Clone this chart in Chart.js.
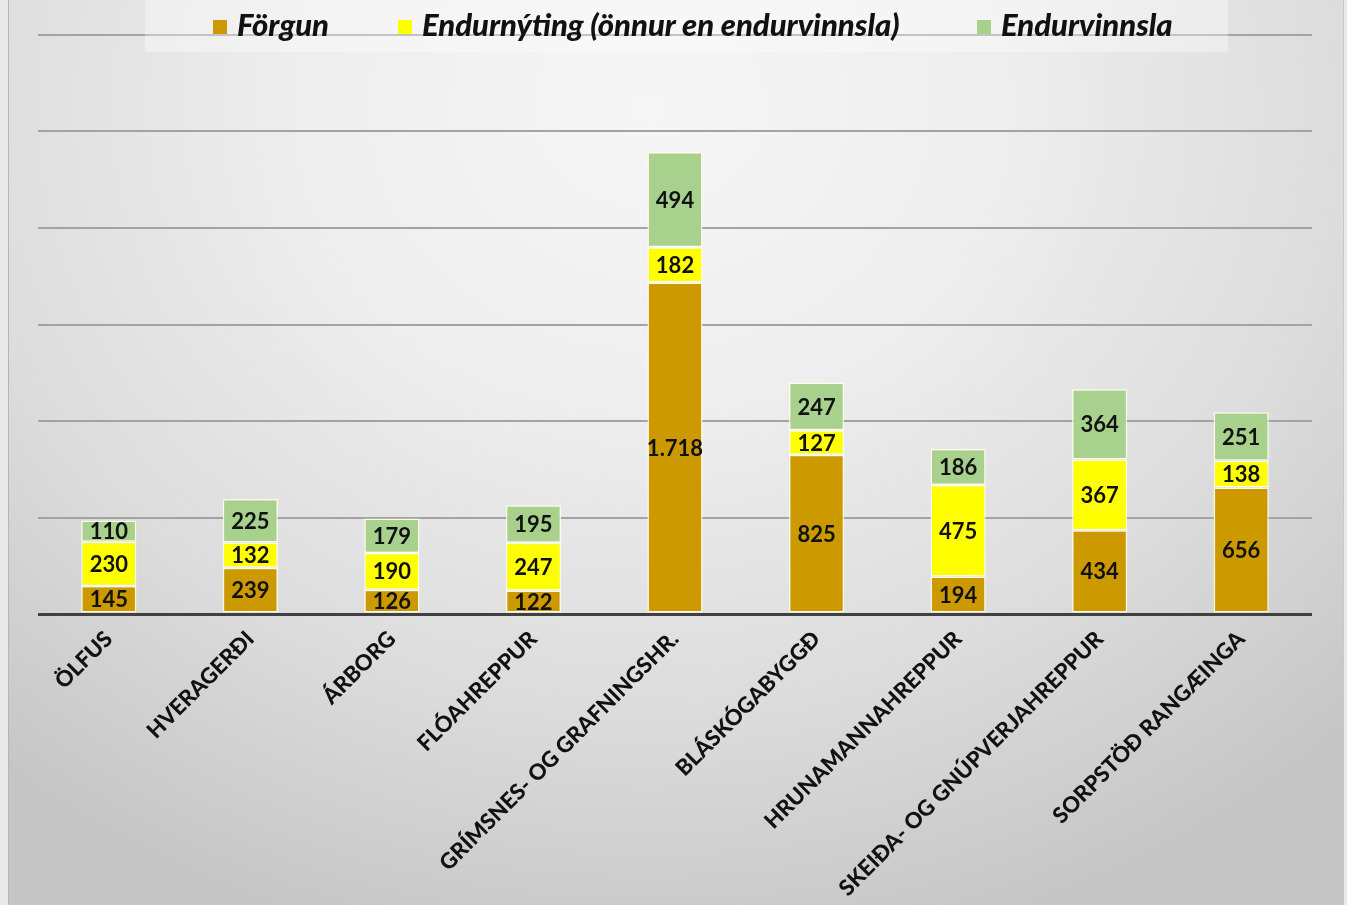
<!DOCTYPE html>
<html>
<head>
<meta charset="utf-8">
<script src="https://cdn.jsdelivr.net/npm/chart.js@4.4.1/dist/chart.umd.min.js"></script>
<style>
  html, body { margin: 0; padding: 0; width: 1347px; height: 905px; overflow: hidden; background: #e9e9e9; }
  #frame {
    position: absolute; left: 8px; top: 0; width: 1334px; height: 905px;
    border-left: 1px solid #b5b5b5; border-right: 1px solid #c8c8c8;
    background: radial-gradient(ellipse 75% 95% at 48% 12%, #f6f6f6 0%, #eeeeee 35%, #dcdcdc 70%, #c6c6c6 100%);
  }
  #chartWrap { position: absolute; left: 0; top: 0; width: 1347px; height: 905px; }
  #legend {
    position: absolute; left: 145px; top: 0; width: 1083px; height: 52px;
    background: rgba(255,255,255,0.35);
    font-family: Lato, "Open Sans", sans-serif; font-weight: 900; font-style: italic;
    font-size: 31px; color: #111;
  }
  .item { position: absolute; top: 5px; white-space: nowrap; line-height: 38px; }
  .sw { display: inline-block; width: 14px; height: 14px; margin-right: 10px; vertical-align: 2px; }
</style>
</head>
<body>
<div id="frame"></div>
<div id="chartWrap"><canvas id="c" width="1347" height="905"></canvas></div>
<div id="legend"></div>
<script>
const categories = ["ÖLFUS","HVERAGERÐI","ÁRBORG","FLÓAHREPPUR","GRÍMSNES- OG GRAFNINGSHR.","BLÁSKÓGABYGGÐ","HRUNAMANNAHREPPUR","SKEIÐA- OG GNÚPVERJAHREPPUR","SORPSTÖÐ RANGÆINGA"];
const forgun = [145,239,126,122,1718,825,194,434,656];
const endurnyting = [230,132,190,247,182,127,475,367,138];
const endurvinnsla = [110,225,179,195,494,247,186,364,251];
const seriesNames = ["Förgun","Endurnýting (önnur en endurvinnsla)","Endurvinnsla"];
const seriesColors = ["#CC9900","#FFFF00","#A9D18E"];
const yMax = 3000;
const yStep = 500;

function fmt(v){ return String(v).replace(/\B(?=(\d{3})+(?!\d))/g, "."); }

const dataLabels = {
  id: 'dataLabels',
  afterDatasetsDraw(chart){
    const ctx = chart.ctx;
    ctx.save();
    ctx.font = "bold 22px Lato, 'Open Sans', sans-serif";
    ctx.fillStyle = "#111";
    ctx.textAlign = "center";
    ctx.textBaseline = "middle";
    chart.data.datasets.forEach((ds, di) => {
      chart.getDatasetMeta(di).data.forEach((bar, i) => {
        const p = bar.getProps(['x','y','base'], true);
        ctx.fillText(fmt(ds.data[i]), p.x, (p.y + p.base)/2 + 1);
      });
    });
    ctx.restore();
  }
};

const datasets = [forgun, endurnyting, endurvinnsla].map((d, i) => ({
  label: seriesNames[i], data: d, backgroundColor: seriesColors[i],
  borderColor: "rgba(255,255,230,0.85)", borderWidth: 1.5, borderSkipped: false,
  categoryPercentage: 1.0, barPercentage: 0.39
}));

const legend = document.getElementById('legend');
const legendLeft = [68, 253, 832];
seriesNames.forEach((n, i) => {
  const el = document.createElement('div');
  el.className = 'item';
  el.style.left = legendLeft[i] + 'px';
  el.innerHTML = '<span class="sw" style="background:' + seriesColors[i] + '"></span>' + n;
  legend.appendChild(el);
});

new Chart(document.getElementById('c'), {
  type: 'bar',
  data: { labels: categories, datasets },
  options: {
    responsive: false, animation: false,
    layout: { padding: { left: 38, right: 35, top: 35, bottom: 0 } },
    plugins: { legend: { display: false }, tooltip: { enabled: false } },
    scales: {
      x: {
        stacked: true,
        grid: { display: false },
        border: { display: false },
        ticks: {
          minRotation: 45, maxRotation: 45, autoSkip: false, padding: 4,
          color: "#111",
          font: { family: "Lato, 'Open Sans', sans-serif", weight: "900", size: 22 }
        },
        afterFit(scale){ scale.height = 291; }
      },
      y: {
        stacked: true, min: 0, max: yMax,
        ticks: { display: false, stepSize: yStep },
        border: { display: false },
        grid: {
          drawTicks: false,
          color: c => c.tick.value === 0 ? "#404040" : "#a3a3a3",
          lineWidth: c => c.tick.value === 0 ? 3 : 2
        },
        afterFit(scale){ scale.width = 0; }
      }
    }
  },
  plugins: [dataLabels]
});
</script>
</body>
</html>
